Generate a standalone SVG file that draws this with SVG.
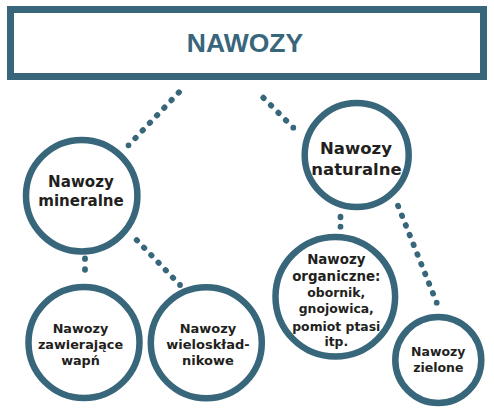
<svg xmlns="http://www.w3.org/2000/svg" width="494" height="412" viewBox="0 0 494 412">
<style>
.ring{fill:#fff;stroke:#38667b;stroke-width:6.5}
.dots{fill:none;stroke:#38667b;stroke-width:5.8;stroke-linecap:round;stroke-dasharray:0.06 0.94}
.t{font-family:"DejaVu Sans","Liberation Sans",sans-serif;font-weight:bold;fill:#231f20;text-anchor:middle}
.title{font-family:"Liberation Sans","DejaVu Sans",sans-serif;font-weight:bold;font-size:26.5px;fill:#38667b;text-anchor:middle}
</style>
<rect width="494" height="412" fill="#fff"/>
<g id="connectors">
<path class="dots" pathLength="7" d="M179,92.3 L128.5,145.3"/>
<path class="dots" pathLength="4" d="M263.3,97.7 L293.3,127.7"/>
<path class="dots" pathLength="2" d="M85,258.3 L85,280"/>
<path class="dots" pathLength="6" d="M136.7,240 L180,285"/>
<path class="dots" pathLength="1" d="M340.5,216.7 L340.5,226.7"/>
<path class="dots" pathLength="10" d="M398,205.7 L436.7,302.7"/>
</g>
<g id="nawozy">
<rect x="10.5" y="9.5" width="473" height="67" fill="#fff" stroke="#38667b" stroke-width="7"/>
<text class="title" x="245" y="52">NAWOZY</text>
</g>
<g id="mineralne">
<circle class="ring" cx="81.7" cy="195.7" r="55.7"/>
<text class="t" font-size="15.1" x="81" y="186.7">Nawozy</text>
<text class="t" font-size="15.1" x="81" y="206">mineralne</text>
</g>
<g id="naturalne">
<circle class="ring" cx="356.7" cy="155" r="52"/>
<text class="t" font-size="16.5" x="356" y="154">Nawozy</text>
<text class="t" font-size="16.5" x="356.5" y="175">naturalne</text>
</g>
<g id="wapn">
<circle class="ring" cx="84" cy="342.5" r="55.5"/>
<text class="t" font-size="12.8" x="80.5" y="333.3">Nawozy</text>
<text class="t" font-size="12.8" x="80.5" y="349">zawierające</text>
<text class="t" font-size="12.8" x="80.5" y="364.5">wapń</text>
</g>
<g id="wieloskladnikowe">
<circle class="ring" cx="206.3" cy="342.8" r="55.5"/>
<text class="t" font-size="13" x="208" y="333.3">Nawozy</text>
<text class="t" font-size="13" x="208" y="349">wieloskład-</text>
<text class="t" font-size="13" x="208" y="364.5">nikowe</text>
</g>
<g id="organiczne">
<circle class="ring" cx="335.3" cy="296.7" r="59.8"/>
<text class="t" font-size="13.4" x="336.3" y="264.3">Nawozy</text>
<text class="t" font-size="13.4" x="336.3" y="281">organiczne:</text>
<text class="t" font-size="12.4" x="336.3" y="296.7">obornik,</text>
<text class="t" font-size="12.4" x="336.3" y="313.3">gnojowica,</text>
<text class="t" font-size="12.4" x="336.3" y="330.5">pomiot ptasi</text>
<text class="t" font-size="12.4" x="336.3" y="345.7">itp.</text>
</g>
<g id="zielone">
<circle class="ring" cx="438.3" cy="360" r="43"/>
<text class="t" font-size="12.5" x="438.3" y="355.7">Nawozy</text>
<text class="t" font-size="12.5" x="438.3" y="372.3">zielone</text>
</g>
</svg>
